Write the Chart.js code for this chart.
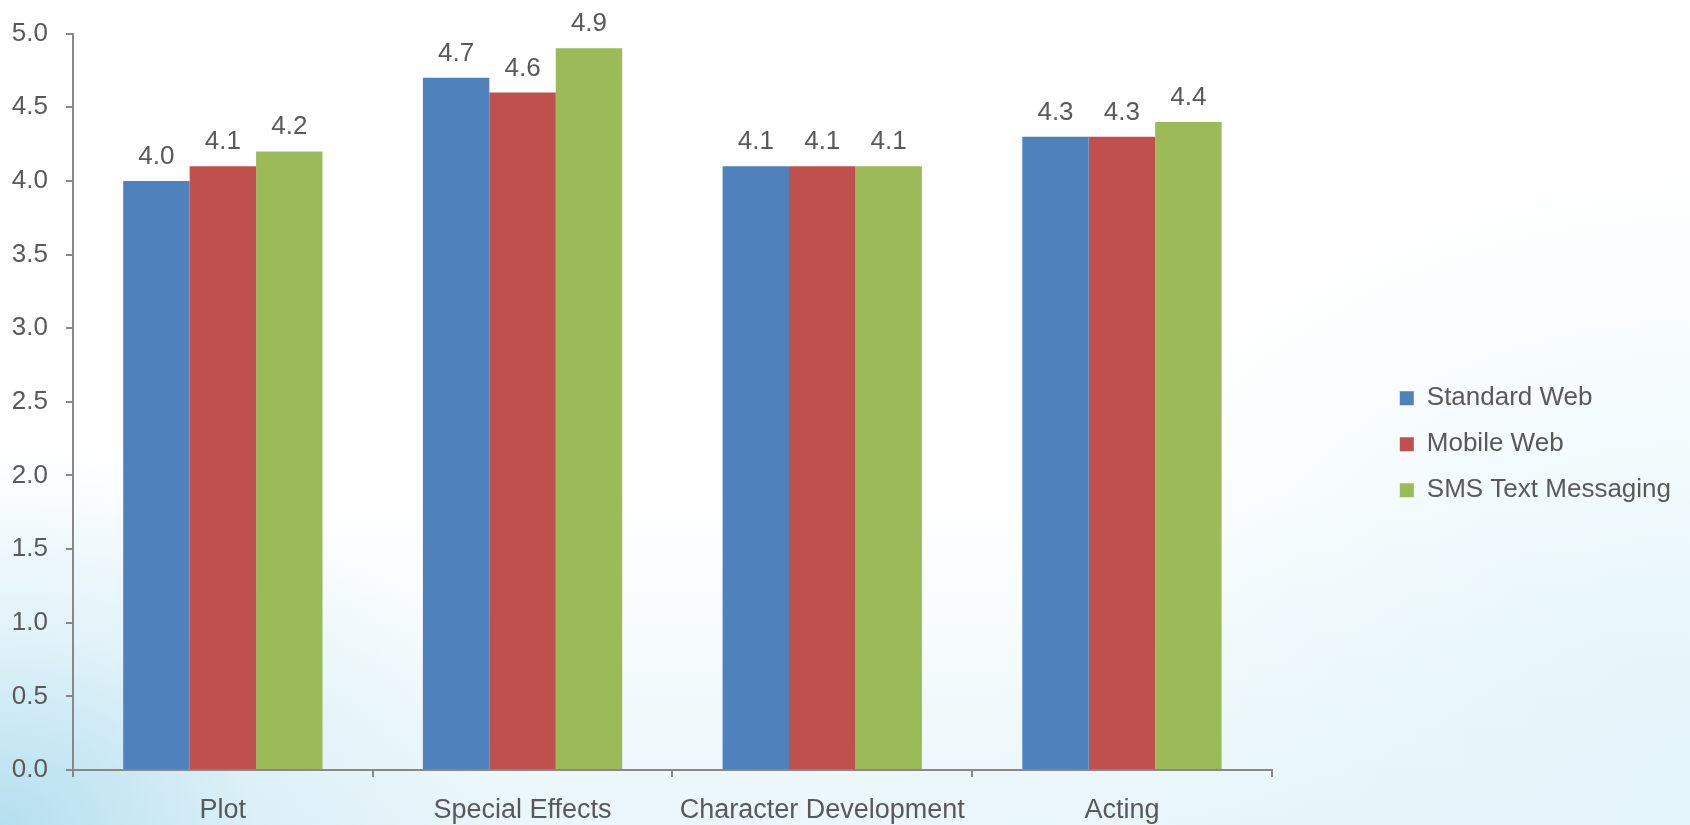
<!DOCTYPE html>
<html>
<head>
<meta charset="utf-8">
<script src="https://cdn.jsdelivr.net/npm/chart.js@4/dist/chart.umd.min.js"></script>
<style>
	html, body { margin: 0; padding: 0; }
	body {
		width: 1690px; height: 825px; overflow: hidden;
		background:
			radial-gradient(ellipse 520px 380px at 0px 825px, rgba(176,221,238,0.92), rgba(205,234,245,0.5) 50%, rgba(255,255,255,0) 100%),
			radial-gradient(ellipse 700px 600px at 1690px 760px, rgba(226,244,250,0.9), rgba(255,255,255,0) 100%),
			linear-gradient(to bottom, #ffffff 0%, #ffffff 60%, #eaf6fa 100%);
	}
	#wrap { position: absolute; left: 0; top: 0; width: 1690px; height: 825px; }
</style>
</head>
<body>
<div id="wrap"><canvas id="ratings" width="1690" height="825"></canvas></div>
<script>
var categories = ['Plot', 'Special Effects', 'Character Development', 'Acting'];
var standardWeb = [4.0, 4.7, 4.1, 4.3];
var mobileWeb = [4.1, 4.6, 4.1, 4.3];
var smsText = [4.2, 4.9, 4.1, 4.4];
var seriesNames = ['Standard Web', 'Mobile Web', 'SMS Text Messaging'];
var seriesColors = ['#4F81BD', '#C0504D', '#9BBB59'];

var textColor = '#595959';
var axisColor = '#888888';
var fontFamily = '"Liberation Sans", Arial, sans-serif';

// values above bars
var valueLabels = {
	id: 'valueLabels',
	afterDatasetsDraw: function (chart) {
		var ctx = chart.ctx;
		ctx.save();
		ctx.fillStyle = textColor;
		ctx.font = '26px ' + fontFamily;
		ctx.textAlign = 'center';
		ctx.textBaseline = 'alphabetic';
		chart.data.datasets.forEach(function (ds, i) {
			chart.getDatasetMeta(i).data.forEach(function (bar, j) {
				ctx.fillText(ds.data[j].toFixed(1), bar.x, bar.y - 17);
			});
		});
		ctx.restore();
	}
};

var data = [standardWeb, mobileWeb, smsText];
var datasets = [];
for (var i = 0; i < seriesNames.length; i++) {
	datasets.push({
		label: seriesNames[i],
		data: data[i],
		backgroundColor: seriesColors[i],
		borderWidth: 0,
		barPercentage: 1.0,
		categoryPercentage: 0.665
	});
}

var ctx = document.getElementById('ratings').getContext('2d');
window.RatingsChart = new Chart(ctx, {
	type: 'bar',
	data: { labels: categories, datasets: datasets },
	plugins: [valueLabels],
	options: {
		responsive: false,
		maintainAspectRatio: false,
		animation: false,
		devicePixelRatio: 1,
		layout: { padding: { top: 31, left: 0, right: 9, bottom: 0 } },
		plugins: {
			tooltip: { enabled: false },
			legend: {
				position: 'right',
				align: 'center',
				maxWidth: 400,
				title: { display: true, text: ' ', padding: 9 },
				labels: {
					boxWidth: 14,
					boxHeight: 14,
					padding: 20,
					color: textColor,
					font: { size: 26, family: fontFamily }
				}
			}
		},
		scales: {
			x: {
				grid: { display: true, drawOnChartArea: false, offset: true, tickLength: 7, color: axisColor, lineWidth: 2 },
				border: { display: true, color: axisColor, width: 2 },
				ticks: { color: textColor, font: { size: 27, family: fontFamily }, padding: 17, maxRotation: 0 },
				afterFit: function (s) { s.height = 55; }
			},
			y: {
				min: 0,
				max: 5,
				grid: { display: true, drawOnChartArea: false, tickLength: 7, color: axisColor, lineWidth: 2 },
				border: { display: true, color: axisColor, width: 2 },
				ticks: {
					stepSize: 0.5,
					color: textColor,
					font: { size: 26, family: fontFamily },
					padding: 18,
					callback: function (v) { return Number(v).toFixed(1); }
				},
				afterFit: function (s) { s.width = 73; }
			},
			gap: {
				type: 'linear',
				position: 'right',
				display: true,
				grid: { display: false },
				border: { display: false },
				ticks: { display: false },
				afterFit: function (s) { s.width = 108; }
			}
		}
	}
});
</script>
</body>
</html>
